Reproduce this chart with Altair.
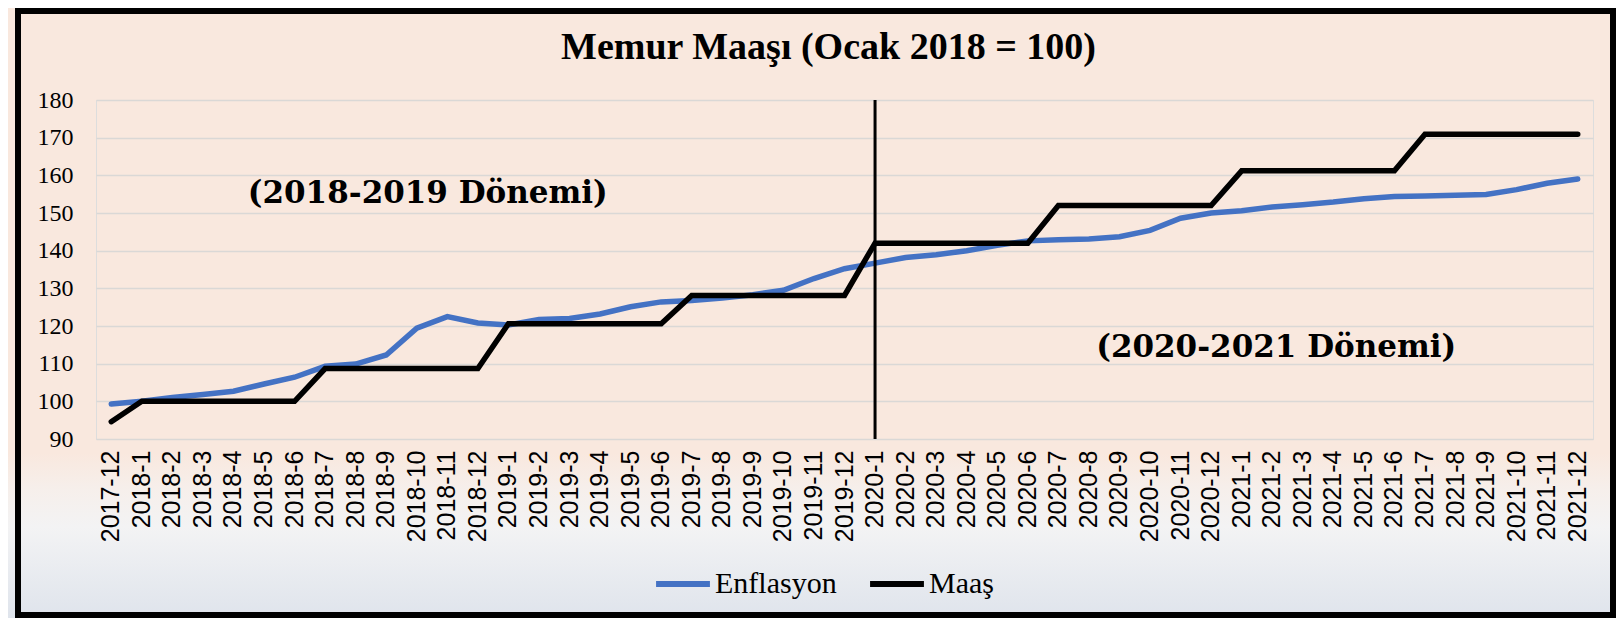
import altair as alt
import pandas as pd

months = [
    "2017-12",
    "2018-1", "2018-2", "2018-3", "2018-4", "2018-5", "2018-6",
    "2018-7", "2018-8", "2018-9", "2018-10", "2018-11", "2018-12",
    "2019-1", "2019-2", "2019-3", "2019-4", "2019-5", "2019-6",
    "2019-7", "2019-8", "2019-9", "2019-10", "2019-11", "2019-12",
    "2020-1", "2020-2", "2020-3", "2020-4", "2020-5", "2020-6",
    "2020-7", "2020-8", "2020-9", "2020-10", "2020-11", "2020-12",
    "2021-1", "2021-2", "2021-3", "2021-4", "2021-5", "2021-6",
    "2021-7", "2021-8", "2021-9", "2021-10", "2021-11", "2021-12",
]

enflasyon = [
    99.3,
    100.0, 101.0, 101.8, 102.7, 104.6, 106.4,
    109.3, 109.9, 112.3, 119.4, 122.5, 120.8,
    120.3, 121.7, 122.0, 123.2, 125.1, 126.4,
    126.8, 127.4, 128.3, 129.5, 132.6, 135.2,
    136.7, 138.2, 138.9, 140.0, 141.4, 142.6,
    142.9, 143.1, 143.7, 145.4, 148.6, 150.0,
    150.6, 151.6, 152.2, 152.9, 153.8, 154.4,
    154.5, 154.7, 154.9, 156.2, 157.9, 159.0,
]

maas = [
    94.6,
    100.0, 100.0, 100.0, 100.0, 100.0, 100.0,
    108.7, 108.7, 108.7, 108.7, 108.7, 108.7,
    120.6, 120.6, 120.6, 120.6, 120.6, 120.6,
    128.1, 128.1, 128.1, 128.1, 128.1, 128.1,
    142.0, 142.0, 142.0, 142.0, 142.0, 142.0,
    152.0, 152.0, 152.0, 152.0, 152.0, 152.0,
    161.2, 161.2, 161.2, 161.2, 161.2, 161.2,
    170.9, 170.9, 170.9, 170.9, 170.9, 170.9,
]

series_names = ["Enflasyon", "Maaş"]
series_colors = ["#4472C4", "#000000"]
y_ticks = [90, 100, 110, 120, 130, 140, 150, 160, 170, 180]

divider_month = ["2020-1"]
note1_text, note1_month, note1_value = "(2018-2019 Dönemi)", "2018-10", 152.6
note2_text, note2_month, note2_value = "(2020-2021 Dönemi)", "2021-2", 111.9

title_text = "Memur Maaşı (Ocak 2018 = 100)"

W, H = 1497, 339
PAD = {"left": 88, "top": 92, "right": 23, "bottom": 179}

df = pd.DataFrame({
    "ay": months * 2,
    "deger": enflasyon + maas,
    "seri": [series_names[0]] * len(months) + [series_names[1]] * len(months),
})
div_df = pd.DataFrame({"ay": divider_month, "deger": [y_ticks[0]], "hi": [y_ticks[-1]]})
note1_df = pd.DataFrame({"ay": [note1_month], "deger": [note1_value], "metin": [note1_text]})
note2_df = pd.DataFrame({"ay": [note2_month], "deger": [note2_value], "metin": [note2_text]})
bg_df = pd.DataFrame({"k": [0]})

y_scale = alt.Scale(domain=[y_ticks[0], y_ticks[-1]], nice=False, zero=False)

x_axis = alt.Axis(labelAngle=-90, labelFont="Liberation Sans", labelFontSize=25,
                  labelColor="#000000", ticks=False, tickSize=0, domain=False,
                  labelPadding=11, grid=False, labelOverlap=False, zindex=1)
y_axis = alt.Axis(values=y_ticks, labelFont="Liberation Serif", labelFontSize=24,
                  labelColor="#000000", ticks=False, tickSize=0, domain=False,
                  labelPadding=23, labelOverlap=False, labelBound=False,
                  gridColor="#dad8d6", gridWidth=1.5)

x_enc = alt.X("ay:O", sort=months, title=None, axis=x_axis)
y_enc = alt.Y("deger:Q", scale=y_scale, title=None, axis=y_axis)

bottom_fade = alt.Chart(bg_df).mark_rect(
    color=alt.LinearGradient(
        gradient="linear", x1=0, y1=0, x2=0, y2=1,
        stops=[alt.GradientStop(offset=0, color="#f9e8de"),
               alt.GradientStop(offset=0.22, color="#f6efeb"),
               alt.GradientStop(offset=0.45, color="#f3f3f4"),
               alt.GradientStop(offset=1.0, color="#dfe4ec")]),
).encode(x=alt.value(-PAD["left"]), x2=alt.value(W + PAD["right"]),
         y=alt.value(H + 14), y2=alt.value(H + PAD["bottom"]))

frame = alt.Chart(bg_df).mark_rect(fill=None, stroke="#000000", strokeWidth=6).encode(
    x=alt.value(-PAD["left"] + 10), x2=alt.value(W + PAD["right"] - 3),
    y=alt.value(-PAD["top"] + 3), y2=alt.value(H + PAD["bottom"] - 3))

lines = alt.Chart(df).mark_line(strokeWidth=5.5, strokeCap="round").encode(
    x=x_enc,
    y=y_enc,
    color=alt.Color("seri:N", sort=series_names,
                    scale=alt.Scale(domain=series_names, range=series_colors),
                    legend=alt.Legend(orient="none", legendX=557, legendY=454,
                                      direction="horizontal", title=None,
                                      symbolType="stroke", symbolSize=2900,
                                      symbolStrokeWidth=6, labelFont="Liberation Serif",
                                      labelFontSize=30, labelColor="#000000",
                                      columnPadding=21, labelOffset=2, padding=0)),
    order=alt.Order("seri:N"),
)

divider = alt.Chart(div_df).mark_rule(color="#000000", strokeWidth=3).encode(
    x=x_enc, y=y_enc, y2="hi:Q")

note_style = dict(font="DejaVu Serif", fontWeight="bold", fontSize=31, color="#000000",
                  align="center", baseline="alphabetic")
note1 = alt.Chart(note1_df).mark_text(dx=11, **note_style).encode(
    x=x_enc, y=y_enc, text="metin:N")
note2 = alt.Chart(note2_df).mark_text(dx=4, **note_style).encode(
    x=x_enc, y=y_enc, text="metin:N")

chart = alt.layer(bottom_fade, frame, lines, divider, note1, note2).properties(
    width=W, height=H,
    title=alt.Title(title_text, font="Liberation Serif", fontSize=38, fontWeight="bold",
                    color="#000000", anchor="middle", offset=0, dx=-16, dy=89,
                    baseline="alphabetic", zindex=1),
    padding=PAD,
    autosize=alt.AutoSizeParams(type="none"),
).configure_view(strokeWidth=0, strokeOpacity=0).configure(background="#f9e8de")

chart.save("out.html", embed_options={"renderer": "svg", "actions": False})
